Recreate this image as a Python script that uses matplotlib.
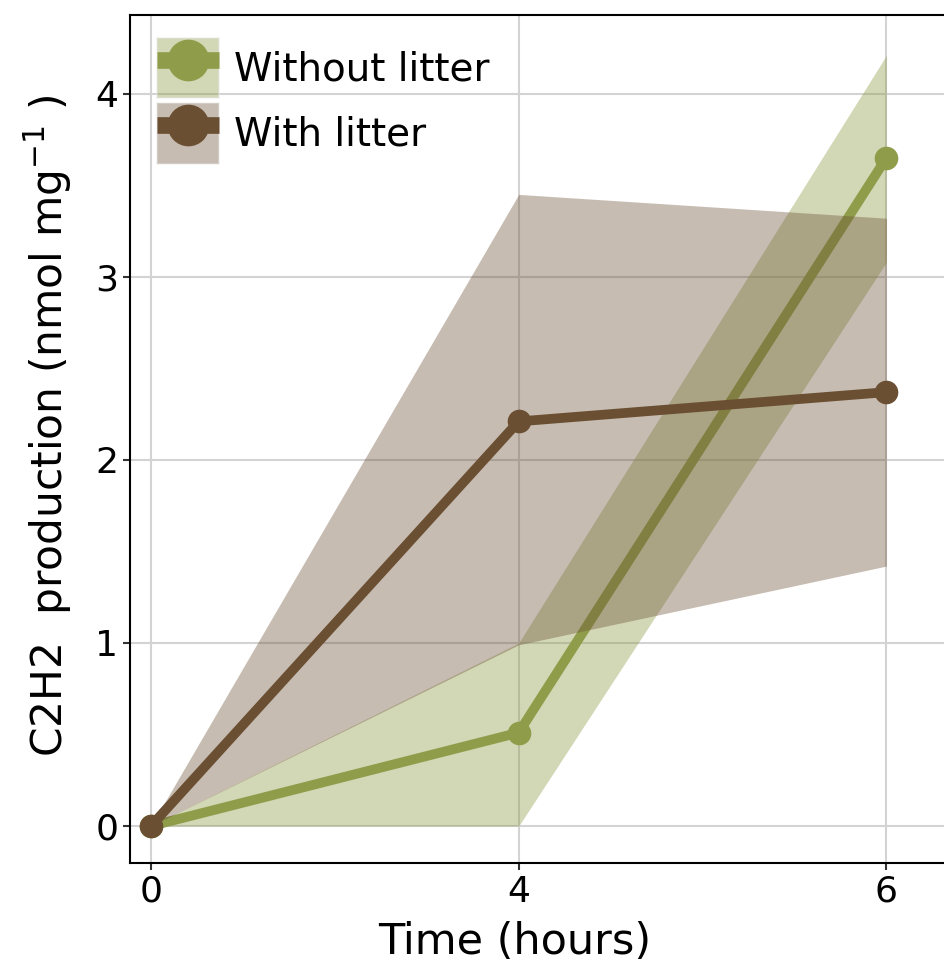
import numpy as np
import matplotlib.pyplot as plt
from matplotlib.patches import Patch
from matplotlib.lines import Line2D

# data
hours = ['0', '4', '6']
without_mean = [0.0, 0.51, 3.65]
without_lo = [0.0, 0.0, 3.08]
without_hi = [0.0, 1.0, 4.21]
with_mean = [0.0, 2.21, 2.37]
with_lo = [0.0, 0.99, 1.42]
with_hi = [0.0, 3.45, 3.32]

green = '#8f9d4a'
brown = '#6b4f33'

fig = plt.figure(figsize=(9.44, 9.67), dpi=100)
ax = fig.add_axes([130 / 944, 1 - 863 / 967, 830 / 944, 848 / 967])
x = np.arange(len(hours))

ax.fill_between(x, without_lo, without_hi, color=green, alpha=0.4, lw=0, zorder=2)
ax.plot(x, without_mean, color=green, lw=7, marker='o', ms=16, zorder=3)
ax.fill_between(x, with_lo, with_hi, color=brown, alpha=0.38, lw=0, zorder=4)
ax.plot(x, with_mean, color=brown, lw=7, marker='o', ms=16, zorder=5)

ax.set_xlim(-0.057, 2.2)
ax.set_ylim(-0.202, 4.43)
ax.set_xticks(x)
ax.set_xticklabels(hours)
ax.set_yticks([0, 1, 2, 3, 4])
ax.tick_params(labelsize=26, length=5, width=1.5, color='#333333')
ax.grid(True, color='#d3d3d3', lw=1.5, zorder=0)
ax.set_axisbelow(True)
for s in ['left', 'bottom', 'top']:
    ax.spines[s].set_linewidth(1.5)
ax.spines['right'].set_visible(False)

ax.set_xlabel('Time (hours)', fontsize=31)
ax.xaxis.set_label_coords(0.464, -0.068, transform=ax.transAxes)
ax.set_ylabel('C2H2  production (nmol mg$^{-1}$ )', fontsize=30.5)
ax.yaxis.set_label_coords(-0.068, 0.515, transform=ax.transAxes)

h1 = (Patch(facecolor=green, alpha=0.4, edgecolor='#e8e8e8', lw=1.5),
      Line2D([], [], color=green, lw=12, marker='o', ms=29, solid_capstyle='butt'))
h2 = (Patch(facecolor=brown, alpha=0.38, edgecolor='#e8e8e8', lw=1.5),
      Line2D([], [], color=brown, lw=12, marker='o', ms=29, solid_capstyle='butt'))
ax.legend([h1, h2], ['Without litter', 'With litter'], loc='upper left',
          bbox_to_anchor=(0.005, 1.0),
          fontsize=28, frameon=False, handlelength=1.57, handleheight=2.0,
          borderaxespad=0.25, borderpad=0.35, handletextpad=0.4, labelspacing=0.13)

fig.savefig('out.png', dpi=100)
